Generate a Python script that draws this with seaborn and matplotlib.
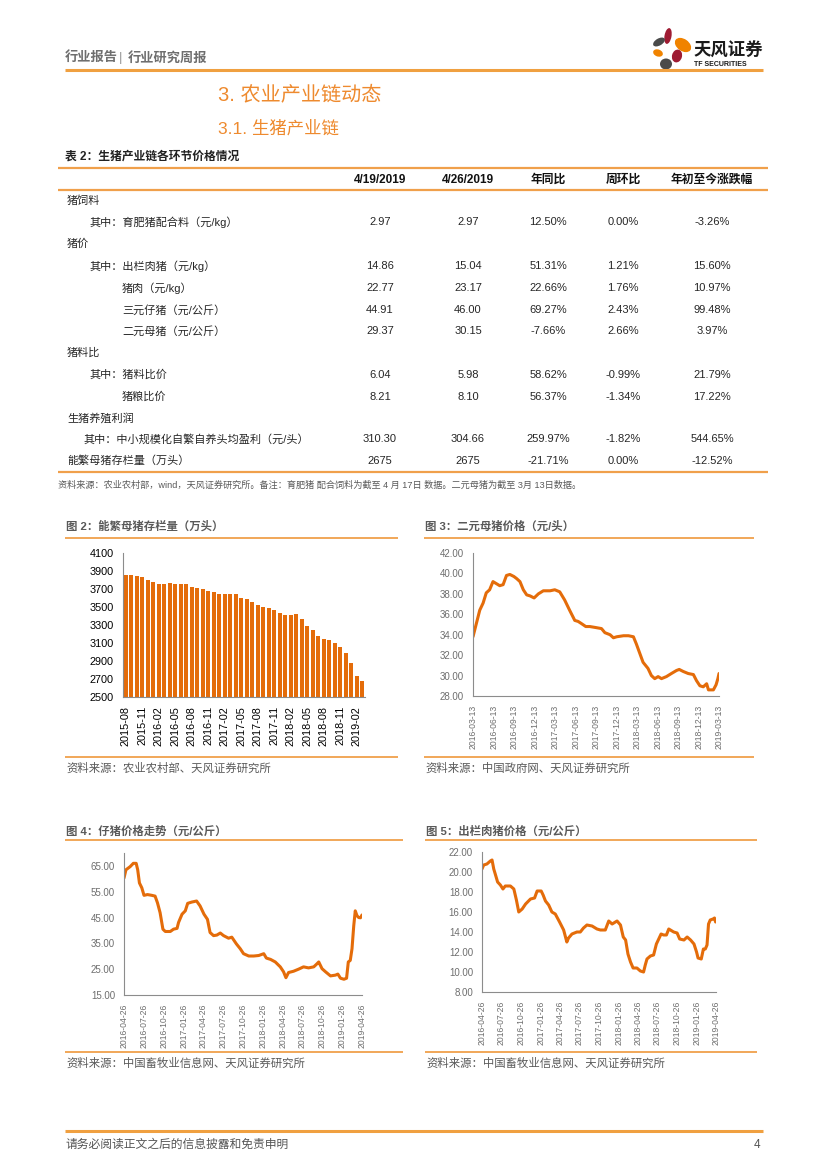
import pandas as pd
import matplotlib
matplotlib.use('Agg')
import matplotlib.pyplot as plt
from matplotlib.patches import Ellipse
import seaborn as sns

# ----------------------------
# DADOS
# ----------------------------
# tabela 2
col_headers = ['4/19/2019', '4/26/2019', '年同比', '周环比', '年初至今涨跌幅']
row_labels = ['猪饲料', '其中：育肥猪配合料（元/kg）', '猪价', '其中：出栏肉猪（元/kg）',
              '猪肉（元/kg）', '三元仔猪（元/公斤）', '二元母猪（元/公斤）', '猪料比',
              '其中：猪料比价', '猪粮比价', '生猪养殖利润',
              '其中：中小规模化自繁自养头均盈利（元/头）', '能繁母猪存栏量（万头）']
price_0419 = ['', '2.97', '', '14.86', '22.77', '44.91', '29.37', '', '6.04', '8.21', '', '310.30', '2675']
price_0426 = ['', '2.97', '', '15.04', '23.17', '46.00', '30.15', '', '5.98', '8.10', '', '304.66', '2675']
yoy = ['', '12.50%', '', '51.31%', '22.66%', '69.27%', '-7.66%', '', '58.62%', '56.37%', '', '259.97%', '-21.71%']
wow = ['', '0.00%', '', '1.21%', '1.76%', '2.43%', '2.66%', '', '-0.99%', '-1.34%', '', '-1.82%', '0.00%']
ytd = ['', '-3.26%', '', '15.60%', '10.97%', '99.48%', '3.97%', '', '21.79%', '17.22%', '', '544.65%', '-12.52%']

# figura 2: 能繁母猪存栏量
sow_months = [str(p) for p in pd.period_range('2015-08', '2019-03', freq='M')]
sow_stock = [3860, 3860, 3850, 3830, 3800, 3780, 3760, 3760, 3770, 3760,
             3760, 3760, 3725, 3715, 3705, 3680, 3670, 3650, 3640, 3640,
             3640, 3600, 3590, 3560, 3525, 3505, 3490, 3470, 3430, 3415,
             3415, 3420, 3370, 3290, 3250, 3180, 3145, 3135, 3100, 3060,
             2990, 2880, 2730, 2675]

# figura 3: 二元母猪价格
sow_price_dates = ['2016-03-13', '2016-03-28', '2016-04-12', '2016-04-27', '2016-05-11', '2016-05-26',
                   '2016-06-10', '2016-06-25', '2016-07-10', '2016-07-25', '2016-08-09', '2016-08-24',
                   '2016-09-11', '2016-09-23', '2016-10-08', '2016-10-23', '2016-11-07', '2016-11-22',
                   '2016-12-10', '2016-12-29', '2017-01-20', '2017-02-19', '2017-03-12', '2017-04-03',
                   '2017-04-25', '2017-05-17', '2017-06-09', '2017-06-24', '2017-07-08', '2017-07-28',
                   '2017-08-15', '2017-09-11', '2017-10-06', '2017-10-21', '2017-11-13', '2017-11-28',
                   '2017-12-13', '2018-01-12', '2018-02-03', '2018-02-25', '2018-03-10', '2018-03-25',
                   '2018-04-09', '2018-05-01', '2018-05-16', '2018-05-31', '2018-06-15', '2018-06-30',
                   '2018-07-22', '2018-08-13', '2018-09-05', '2018-09-17', '2018-10-05', '2018-10-27',
                   '2018-11-19', '2018-12-03', '2018-12-18', '2019-01-02', '2019-01-17', '2019-01-25',
                   '2019-02-16', '2019-02-28', '2019-03-08', '2019-03-13']
sow_price = [33.8, 35.1, 36.4, 37.1, 38.1, 38.4,
             39.2, 39.0, 38.8, 38.9, 39.8, 39.9,
             39.7, 39.5, 39.2, 38.4, 37.9, 37.8,
             37.6, 38.0, 38.3, 38.3, 38.4, 38.2,
             37.4, 36.4, 35.4, 35.3, 35.1, 34.8,
             34.8, 34.7, 34.6, 34.2, 34.0, 33.7,
             33.8, 33.9, 33.9, 33.8, 33.1, 32.2,
             31.3, 30.7, 30.0, 29.7, 29.9, 29.7,
             29.9, 30.2, 30.5, 30.6, 30.4, 30.2,
             30.1, 29.5, 29.0, 28.9, 29.2, 28.6,
             28.6, 29.1, 29.7, 30.2]

# figura 4: 仔猪价格
piglet_dates = ['2016-04-26', '2016-05-05', '2016-05-24', '2016-06-08', '2016-06-21', '2016-06-28',
                '2016-07-06', '2016-07-17', '2016-07-27', '2016-08-12', '2016-09-01', '2016-09-16',
                '2016-09-27', '2016-10-09', '2016-10-22', '2016-11-02', '2016-11-25', '2016-12-10',
                '2016-12-26', '2017-01-02', '2017-01-18', '2017-02-02', '2017-02-13', '2017-03-04',
                '2017-03-26', '2017-04-11', '2017-04-29', '2017-05-15', '2017-05-27', '2017-06-12',
                '2017-06-27', '2017-07-13', '2017-07-28', '2017-08-20', '2017-09-04', '2017-09-25',
                '2017-10-13', '2017-10-28', '2017-11-21', '2017-12-14', '2018-01-06', '2018-01-29',
                '2018-02-10', '2018-03-01', '2018-03-23', '2018-04-15', '2018-04-30', '2018-05-11',
                '2018-05-23', '2018-06-15', '2018-07-08', '2018-07-31', '2018-08-23', '2018-09-16',
                '2018-10-01', '2018-10-09', '2018-10-24', '2018-11-09', '2018-12-02', '2018-12-25',
                '2019-01-05', '2019-01-17', '2019-02-02', '2019-02-14', '2019-02-22', '2019-03-03',
                '2019-03-11', '2019-03-19', '2019-03-26', '2019-04-03', '2019-04-11', '2019-04-19',
                '2019-04-26']
piglet_price = [60.3, 63.5, 64.7, 66.0, 66.0, 63.5,
                58.4, 56.5, 53.6, 53.9, 53.6, 53.3,
                50.7, 46.9, 40.5, 39.6, 39.6, 40.5,
                40.8, 43.1, 46.3, 47.6, 50.5, 51.0,
                51.4, 49.5, 46.3, 44.3, 39.2, 38.0,
                38.2, 39.0, 38.0, 37.0, 37.4, 34.8,
                32.9, 31.0, 30.1, 30.1, 30.3, 31.0,
                29.3, 28.8, 27.8, 25.9, 24.0, 21.7,
                23.7, 24.2, 25.0, 25.9, 25.5, 25.9,
                27.1, 27.8, 25.2, 24.0, 22.4, 22.7,
                23.1, 21.5, 21.1, 21.5, 27.8, 28.4,
                32.9, 41.8, 47.6, 45.7, 45.0, 44.9,
                46.0]

# figura 5: 出栏肉猪价格
hog_dates = ['2016-04-26', '2016-05-04', '2016-05-19', '2016-06-04', '2016-06-12', '2016-06-20',
             '2016-06-27', '2016-07-08', '2016-07-21', '2016-08-02', '2016-08-13', '2016-09-06',
             '2016-09-22', '2016-10-04', '2016-10-15', '2016-10-31', '2016-11-16', '2016-12-09',
             '2016-12-28', '2017-01-09', '2017-01-28', '2017-02-06', '2017-02-17', '2017-03-04',
             '2017-03-19', '2017-04-04', '2017-04-24', '2017-05-13', '2017-05-28', '2017-06-05',
             '2017-06-21', '2017-07-14', '2017-07-30', '2017-08-14', '2017-08-30', '2017-09-23',
             '2017-10-16', '2017-11-01', '2017-11-24', '2017-12-10', '2017-12-26', '2018-01-18',
             '2018-02-03', '2018-02-16', '2018-02-27', '2018-03-10', '2018-03-22', '2018-04-03',
             '2018-04-21', '2018-05-07', '2018-05-22', '2018-05-30', '2018-06-07', '2018-06-23',
             '2018-07-08', '2018-07-21', '2018-08-01', '2018-08-12', '2018-08-24', '2018-09-06',
             '2018-09-17', '2018-10-10', '2018-10-26', '2018-11-07', '2018-11-27', '2018-12-12',
             '2018-12-28', '2019-01-13', '2019-01-25', '2019-02-01', '2019-02-16', '2019-02-26',
             '2019-03-07', '2019-03-15', '2019-03-22', '2019-03-30', '2019-04-12', '2019-04-19',
             '2019-04-24', '2019-04-26']
hog_price = [20.3, 20.7, 20.8, 21.1, 21.2, 20.3,
             19.8, 19.0, 18.7, 18.3, 18.6, 18.6,
             18.3, 17.2, 16.0, 16.3, 16.8, 17.3,
             17.4, 18.1, 18.1, 17.7, 17.1, 16.7,
             16.0, 15.8, 15.0, 14.2, 13.0, 13.4,
             13.8, 14.0, 14.0, 14.4, 14.7, 14.6,
             14.3, 14.2, 14.2, 15.1, 14.8, 15.1,
             14.7, 13.5, 13.2, 11.8, 11.0, 10.4,
             10.4, 10.1, 10.0, 10.7, 11.3, 11.6,
             11.7, 12.8, 13.3, 13.8, 13.7, 13.7,
             14.3, 14.0, 13.9, 13.3, 13.2, 13.5,
             13.2, 12.8, 12.0, 11.4, 11.3, 12.3,
             12.3, 12.7, 14.8, 15.2, 15.3, 15.4,
             15.0, 15.1]

# ----------------------------
# ESTILO
# ----------------------------
sns.set_style('white')
plt.rcParams['font.family'] = ['Liberation Sans', 'Noto Sans CJK SC']
plt.rcParams['axes.unicode_minus'] = False

W, H = 827, 1170
BAR_OR = '#E46C0A'
LINE_OR = '#F0A04B'
TITLE_OR = '#EE8A2E'
GRAY = '#595959'

fig = plt.figure(figsize=(W / 100, H / 100), dpi=100)

# fundo em coordenadas de pixel
bg = fig.add_axes([0, 0, 1, 1], zorder=0)
bg.set_xlim(0, W)
bg.set_ylim(H, 0)
bg.axis('off')


def hline(y, x0, x1, lw=1.6, color=LINE_OR):
    bg.plot([x0, x1], [y, y], color=color, lw=lw, solid_capstyle='butt')


def txt(x, y, s, **kw):
    kw.setdefault('va', 'center')
    bg.text(x, y, s, **kw)


# ----------------------------
# CABEÇALHO
# ----------------------------
txt(65, 58, '行业报告', fontsize=9.5, color='#6E6E6E', weight='bold')
txt(119, 58, '|', fontsize=9.5, color='#9A9A9A')
txt(128, 58, '行业研究周报', fontsize=9.5, color='#6E6E6E', weight='bold')
hline(70, 65, 763, lw=2.2, color='#F0A040')

# logo
CRIMSON = '#9E1B32'
LOGO_OR = '#F08300'
DARK = '#4A4A4A'
for (cx, cy, w, h, ang, c) in [(668, 36, 7, 16, 10, CRIMSON), (683, 45, 18, 12, 35, LOGO_OR),
                               (659, 42, 13, 7, -30, DARK), (658, 53, 10, 7, 20, LOGO_OR),
                               (677, 56, 10, 13, 15, CRIMSON), (666, 64, 12, 11, 0, DARK)]:
    bg.add_patch(Ellipse((cx, cy), w, h, angle=ang, color=c, lw=0))
txt(693, 50, '天风证券', fontsize=12.5, weight='bold', color='#1A1A1A')
txt(694, 64, 'TF SECURITIES', fontsize=5, weight='bold', color='#1A1A1A')

txt(218, 95, '3. 农业产业链动态', fontsize=14.5, color=TITLE_OR)
txt(218, 128, '3.1. 生猪产业链', fontsize=12.5, color=TITLE_OR)

# ----------------------------
# TABELA
# ----------------------------
txt(65, 157, '表 2：生猪产业链各环节价格情况', fontsize=8.5, weight='bold', color='#222222')
hline(168, 58, 768)
hline(190, 58, 768)
hline(472, 58, 768)

col_x = [380, 468, 548, 623, 712]
for cx, h in zip(col_x, col_headers):
    txt(cx, 180, h, fontsize=8.5, weight='bold', ha='center', color='#111111')

row_y = [201, 222, 244, 266, 288, 310, 331, 353, 375, 397, 418, 439, 461]
row_x = [67, 89, 67, 89, 122, 122, 122, 67, 89, 122, 67, 83, 67]
for i, lab in enumerate(row_labels):
    txt(row_x[i], row_y[i], lab, fontsize=8, color='#262626')
    for cx, col in zip(col_x, [price_0419, price_0426, yoy, wow, ytd]):
        if col[i]:
            txt(cx, row_y[i], col[i], fontsize=8, ha='center', color='#262626')

txt(58, 485, '资料来源：农业农村部，wind，天风证券研究所。备注：育肥猪 配合饲料为截至 4 月 17日 数据。二元母猪为截至 3月 13日数据。',
    fontsize=6.6, color=GRAY)

# ----------------------------
# TÍTULOS E FONTES DOS GRÁFICOS
# ----------------------------
chart_titles = ['图 2：能繁母猪存栏量（万头）', '图 3：二元母猪价格（元/头）',
                '图 4：仔猪价格走势（元/公斤）', '图 5：出栏肉猪价格（元/公斤）']
chart_sources = ['资料来源：农业农村部、天风证券研究所', '资料来源：中国政府网、天风证券研究所',
                 '资料来源：中国畜牧业信息网、天风证券研究所', '资料来源：中国畜牧业信息网、天风证券研究所']
panels = [(65, 398, 526, 538, 757, 768), (424, 754, 526, 538, 757, 768),
          (65, 403, 831, 840, 1052, 1063), (425, 757, 831, 840, 1052, 1063)]
for (x0, x1, ty, ly, by, sy), t, s in zip(panels, chart_titles, chart_sources):
    txt(x0 + 1, ty, t, fontsize=8.2, weight='bold', color=GRAY)
    hline(ly, x0, x1, lw=1.3)
    hline(by, x0, x1, lw=1.3)
    txt(x0 + 1, sy, s, fontsize=8.2, style='italic', color=GRAY)


def add_ax(l, r, t, b):
    ax = fig.add_axes([l / W, 1 - b / H, (r - l) / W, (b - t) / H], zorder=2)
    ax.patch.set_alpha(0)
    for sp in ['top', 'right']:
        ax.spines[sp].set_visible(False)
    for sp in ['left', 'bottom']:
        ax.spines[sp].set_color('#8C8C8C')
        ax.spines[sp].set_linewidth(0.8)
    ax.tick_params(direction='out', length=3, width=0.7, color='#8C8C8C')
    return ax


# ----------------------------
# FIGURA 2 - barras
# ----------------------------
ax2 = add_ax(123, 365, 553, 697)
sns.barplot(x=sow_months, y=sow_stock, color=BAR_OR, width=0.78, saturation=1,
            linewidth=0, edgecolor='none', ax=ax2)
ax2.set_ylim(2500, 4100)
ax2.set_xlim(-0.5, len(sow_months) - 0.5)
ax2.set_yticks(range(2500, 4101, 200))
ax2.set_xticks(range(0, len(sow_months), 3))
ax2.set_xticklabels(sow_months[::3], rotation=90)
ax2.tick_params(labelsize=7.8, labelcolor='#000000')
ax2.set_xlabel('')
ax2.set_ylabel('')


# ----------------------------
# FIGURAS 3, 4, 5 - linhas
# ----------------------------
def line_chart(box, dates, vals, start, end, ylo, yhi, ystep, ymax_tick):
    ax = add_ax(*box)
    d = pd.to_datetime(dates)
    sns.lineplot(x=d, y=vals, color=BAR_OR, lw=2.2, ax=ax)
    ticks = pd.date_range(start, end, freq=pd.DateOffset(months=3))
    ax.set_xlim(pd.Timestamp(start), pd.Timestamp(end))
    ax.set_xticks(ticks)
    ax.set_xticklabels([t.strftime('%Y-%m-%d') for t in ticks], rotation=90, fontsize=6.2)
    ax.set_ylim(ylo, yhi)
    yt = [ylo + k * ystep for k in range(int(round((ymax_tick - ylo) / ystep)) + 1)]
    ax.set_yticks(yt)
    ax.set_yticklabels(['%.2f' % v for v in yt], fontsize=7)
    ax.tick_params(labelcolor='#6E6E6E')
    ax.set_xlabel('')
    ax.set_ylabel('')
    return ax


line_chart((473, 719, 553, 696), sow_price_dates, sow_price, '2016-03-13', '2019-03-13', 28, 42, 2, 42)
line_chart((124, 362, 853, 995), piglet_dates, piglet_price, '2016-04-26', '2019-04-26', 15, 70, 10, 65)
line_chart((482, 716, 852, 992), hog_dates, hog_price, '2016-04-26', '2019-04-26', 8, 22, 2, 22)

# ----------------------------
# RODAPÉ
# ----------------------------
hline(1131, 65, 763, lw=2.2, color='#F0A040')
txt(65, 1145, '请务必阅读正文之后的信息披露和免责申明', fontsize=8.5, color='#555555')
txt(760, 1145, '4', fontsize=8.5, color='#555555', ha='right')

fig.savefig('out.png', dpi=100)
